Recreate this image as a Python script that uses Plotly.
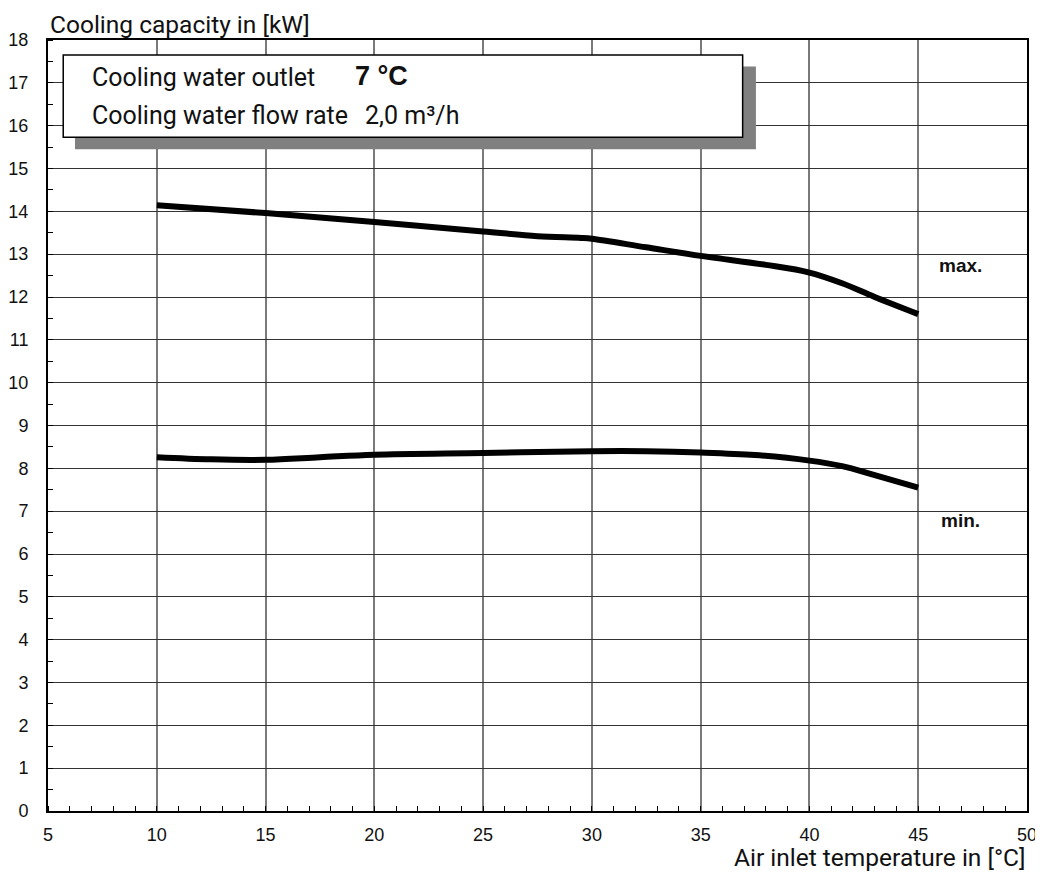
import plotly.graph_objects as go

# Data
temp_max = [10, 15, 20, 25, 27.5, 29.5, 30, 32.5, 35, 38, 40, 41.5, 43, 45]
cap_max = [14.14, 13.96, 13.75, 13.53, 13.42, 13.38, 13.36, 13.16, 12.96, 12.75, 12.57, 12.32, 12.0, 11.6]
temp_min = [10, 12.5, 15, 17.5, 20, 25, 30, 32.5, 35, 37.5, 40, 41.5, 43, 45]
cap_min = [8.26, 8.21, 8.20, 8.26, 8.32, 8.36, 8.40, 8.40, 8.37, 8.31, 8.18, 8.05, 7.84, 7.55]

x_ticks = [5, 10, 15, 20, 25, 30, 35, 40, 45, 50]
y_ticks = list(range(0, 19))

TEXT_FONT = "Roboto"
NUM_FONT = "Liberation Sans"

fig = go.Figure()
for xs, ys in [(temp_max, cap_max), (temp_min, cap_min)]:
    fig.add_trace(go.Scatter(x=xs, y=ys, mode="lines",
                             line=dict(color="black", width=6, shape="spline", smoothing=1.0),
                             showlegend=False, hoverinfo="skip"))

fig.update_layout(
    width=1043, height=877,
    margin=dict(l=40, r=24, t=32, b=74, autoexpand=False),
    paper_bgcolor="white", plot_bgcolor="white",
    showlegend=False,
)

fig.update_xaxes(
    range=[5, 50], tickvals=x_ticks, ticktext=[str(v) for v in x_ticks],
    showgrid=True, gridcolor="#7a7a7a", gridwidth=1.5,
    showline=True, linecolor="black", linewidth=2, mirror=True,
    ticks="", ticklabelstandoff=6, automargin=False,
    tickfont=dict(family=NUM_FONT, size=18, color="#111"),
    minor=dict(dtick=1, ticks="inside", ticklen=5, tickcolor="black", tickwidth=1, showgrid=False),
    zeroline=False,
)
fig.update_yaxes(
    range=[0, 18], tickvals=y_ticks, ticktext=[str(v) for v in y_ticks],
    showgrid=True, gridcolor="#333333", gridwidth=1,
    showline=True, linecolor="black", linewidth=2, mirror=True,
    ticks="", ticklabelstandoff=14, automargin=False,
    tickfont=dict(family=NUM_FONT, size=18, color="#111"),
    minor=dict(dtick=0.5, ticks="inside", ticklen=5, tickcolor="black", tickwidth=1, showgrid=False),
    zeroline=False,
)

# Info box with shadow
fig.add_shape(type="rect", xref="x", yref="y", x0=6.24, x1=37.54, y0=15.45, y1=17.38,
              fillcolor="#808080", line=dict(width=0), layer="above")
fig.add_shape(type="rect", xref="x", yref="y", x0=5.70, x1=36.93, y0=15.73, y1=17.65,
              fillcolor="white", line=dict(color="black", width=1.5), layer="above")

def ann(text, x, y, size, family=TEXT_FONT, bold=False, xanchor="left", yanchor="middle",
        xref="x", yref="y"):
    fig.add_annotation(text=f"<b>{text}</b>" if bold else text, x=x, y=y, xref=xref, yref=yref,
                       xanchor=xanchor, yanchor=yanchor, showarrow=False, borderpad=0,
                       font=dict(family=family, size=size, color="#111"))

ann("Cooling water outlet", 6.98, 17.13, 25)
ann("7 °C", 19.06, 17.16, 27, family=NUM_FONT, bold=True)
ann("Cooling water flow rate", 6.98, 16.235, 25)
ann("2,0 m³/h", 19.52, 16.235, 25)

ann("max.", 46.93, 12.74, 19, family=NUM_FONT, bold=True, xanchor="center")
ann("min.", 46.93, 6.78, 19, family=NUM_FONT, bold=True, xanchor="center")

ann("Cooling capacity in [kW]", 0.001, 1.0405, 24.5, yanchor="top", xref="paper", yref="paper")
ann("Air inlet temperature in [°C]", 0.999, -0.0605, 24.5, xanchor="right", xref="paper", yref="paper")

fig.write_html("out.html")
